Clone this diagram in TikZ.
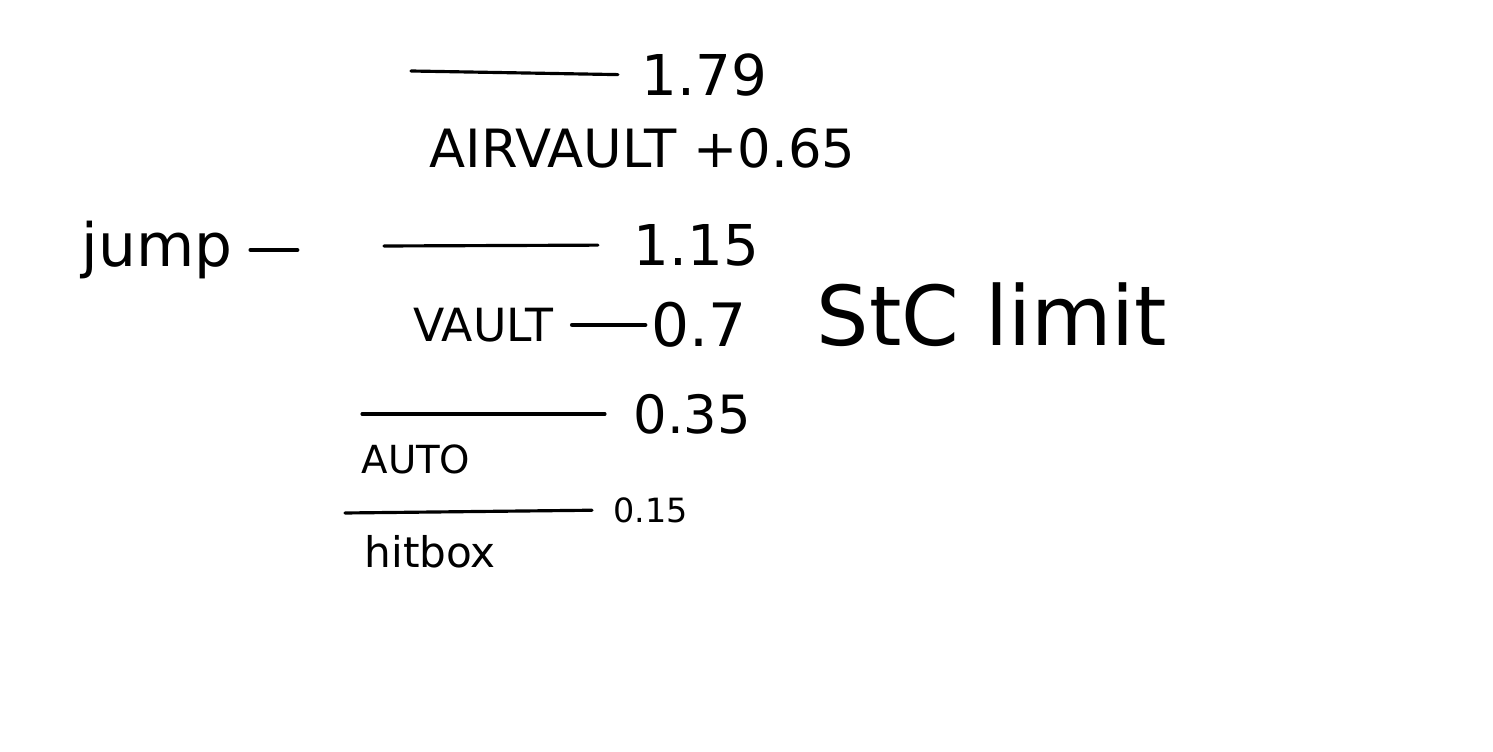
\documentclass[tikz,border=0pt]{standalone}
\usepackage{fontspec}
\setmainfont{DejaVu Sans}
\begin{document}
\begin{tikzpicture}[line cap=round, line join=round, x=0.01cm, y=-0.01cm, line width=0.9pt]
	\tikzset{val/.style={anchor=west, inner sep=0pt}, gap/.style={shorten >=0.22cm}, dash line/.style={line width=1.4pt}}
	\useasboundingbox (0,0) rectangle (1493,752);
	% levels
	\coordinate (l179) at (411,71);
	\coordinate (l115) at (384,246);
	\coordinate (l035) at (362,414);
	\coordinate (l015) at (345,513);
	\coordinate (jumpend) at (297,250);
	\node[val, font=\fontsize{16}{18}\selectfont] (v179) at (640,75) {1.79};
	\node[val, font=\fontsize{15}{18}\selectfont] (air) at (428,148) {AIRVAULT +0.65};
	\node[val, font=\fontsize{17}{20}\selectfont] (jump) at (80,250) {jump};
	\node[val, font=\fontsize{16}{18}\selectfont] (v115) at (632,245) {1.15};
	\node[val, font=\fontsize{13}{16}\selectfont] (vault) at (412,325) {VAULT};
	\node[val, font=\fontsize{17}{20}\selectfont] (v07) at (650,325) {0.7};
	\node[val, font=\fontsize{23.5}{26}\selectfont] (stc) at (815,315) {StC limit};
	\node[val, font=\fontsize{15}{18}\selectfont] (v035) at (632,414) {0.35};
	\node[val, font=\fontsize{11}{13}\selectfont] (auto) at (360,459) {AUTO};
	\node[val, font=\fontsize{9.5}{12}\selectfont] (v015) at (612,510) {0.15};
	\node[val, font=\fontsize{12}{14}\selectfont] (hitbox) at (363,552) {hitbox};
	\draw[gap] (l179) -- (v179.west);
	\draw[gap, shorten >=0.34cm] (l115) -- (v115.west);
	\draw[gap, shorten >=0.27cm] (l035) -- (v035.west);
	\draw[gap, shorten >=0.2cm] (l015) -- (v015.west);
	\draw[dash line, shorten <=0.17cm] (jump.east) -- (jumpend);
	\draw[dash line, shorten <=0.17cm, shorten >=0.05cm] (vault.east) -- (v07.west);
\end{tikzpicture}
\end{document}
